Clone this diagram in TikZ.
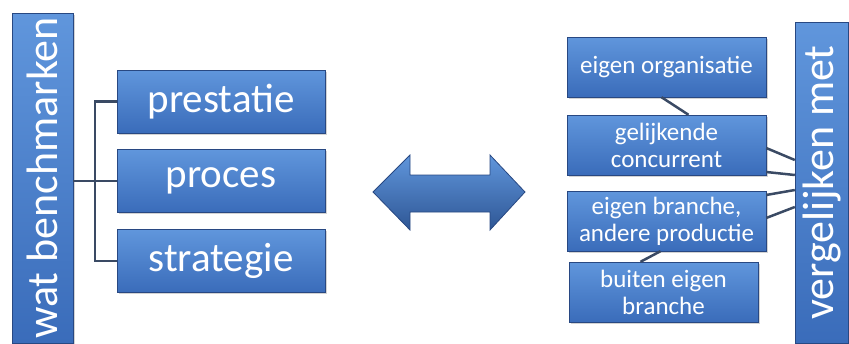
\documentclass[tikz,border=0pt]{standalone}
\usepackage{fontspec}
\setmainfont{Carlito}
\usetikzlibrary{positioning,shadows}
\definecolor{BoxBlue}{RGB}{58,108,186}
\definecolor{BoxLight}{RGB}{96,150,220}
\definecolor{BoxEdge}{RGB}{40,72,130}
\definecolor{LinkGrey}{RGB}{58,74,100}

\tikzset{
  bluebox/.style={draw=BoxEdge, thin, rectangle, top color=BoxLight, bottom color=BoxBlue,
    text=white, align=center, inner sep=1pt,
    drop shadow={opacity=0.35, shadow xshift=1.5pt, shadow yshift=-1.5pt}},
  bigbox/.style={bluebox, minimum width=208, minimum height=63, font=\fontsize{41}{43}\selectfont},
  smallbox/.style={bluebox, minimum width=199, minimum height=60, font=\fontsize{25}{27}\selectfont},
  barbox/.style={bluebox, font=\fontsize{44}{46}\selectfont},
  link/.style={LinkGrey, line width=2.5pt}
}

\begin{document}
\begin{tikzpicture}[x=1pt, y=-1pt]
    \useasboundingbox (0,0) rectangle (849,343);
    % Left side
    \node[barbox, minimum width=330, minimum height=61, rotate=90] (bench) at (42.5,178) {wat benchmarken};
    \node[bigbox] (presta) at (221,101.5) {prestatie};
    \node[bigbox] (proces) at (221,181) {proces};
    \node[bigbox] (strat) at (221,261) {strategie};
    \draw[link] (bench.south |- proces) -- (proces.west);
    \draw[link] (presta.west) -- ++(-22,0) |- (strat.west);
    % Double arrow
    \draw[BoxEdge, thick, top color=BoxLight, bottom color=BoxBlue!80!black]
        (373,192) -- (410,155) -- (410,175) -- (490,175) -- (490,155) -- (525,192)
        -- (490,230) -- (490,212) -- (410,212) -- (410,230) -- cycle;
    % Right side
    \node[barbox, minimum width=321, minimum height=53, rotate=90] (vergl) at (821.5,182.5) {vergelijken met};
    \node[smallbox] (org) at (666.5,67) {eigen organisatie};
    \node[smallbox] (gel) at (666.5,145) {gelijkende\\concurrent};
    \node[smallbox] (brn) at (666.5,221) {eigen branche,\\andere productie};
    \node[smallbox, minimum width=189] (buiten) at (663.5,292) {buiten eigen\\branche};
    \draw[link] ([xshift=-5]org.south) -- ([xshift=22]gel.north);
    \draw[link] ([xshift=-6]brn.south) -- ([xshift=-23]buiten.north);
    \draw[link] ([yshift=-3]gel.east) -- ([yshift=22.5]vergl.north);
    \draw[link] ([yshift=-27]gel.east) -- ([yshift=7.5]vergl.north);
    \draw[link] ([yshift=26]brn.east) -- ([yshift=-7.5]vergl.north);
    \draw[link] ([yshift=3]brn.east) -- ([yshift=-24.5]vergl.north);
\end{tikzpicture}
\end{document}
